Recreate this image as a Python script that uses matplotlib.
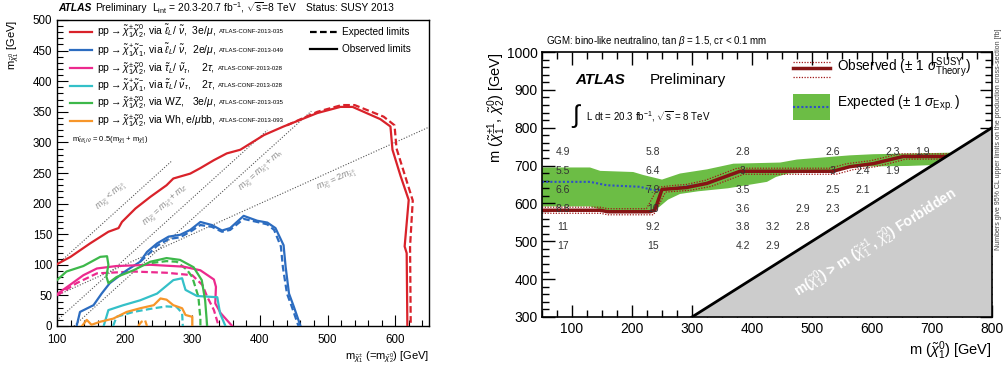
import numpy as np
import matplotlib
matplotlib.use('Agg')
import matplotlib.pyplot as plt
from matplotlib.ticker import MultipleLocator

plt.rcParams['font.family'] = ['Liberation Sans', 'DejaVu Sans']
plt.rcParams['mathtext.fontset'] = 'custom'
plt.rcParams['mathtext.rm'] = 'Liberation Sans'
plt.rcParams['mathtext.it'] = 'Liberation Sans:italic'
plt.rcParams['mathtext.bf'] = 'Liberation Sans:bold'

W, H = 1006, 374

# ---------------- left panel data (GeV) ----------------
red_obs_x = [100, 120, 149, 176, 191, 196, 216, 238, 262, 272, 297, 312, 332, 351, 371, 406, 435, 485, 519, 537, 578, 593, 596, 608, 620, 614, 617, 618]
red_obs_y = [101, 113, 135, 154, 160, 170, 192, 211, 230, 241, 249, 258, 271, 282, 288, 312, 326, 348, 358, 358, 338, 326, 288, 245, 206, 130, 119, 0]
red_exp_x = [440, 485, 521, 540, 583, 599, 602, 626, 622, 623]
red_exp_y = [328, 350, 361, 361, 342, 328, 290, 205, 130, 0]

blue_obs_x = [129, 134, 154, 166, 178, 203, 223, 233, 248, 265, 282, 297, 312, 329, 344, 356, 376, 396, 411, 423, 435, 438, 443, 450, 460]
blue_obs_y = [0, 23, 34, 53, 70, 91, 105, 121, 135, 146, 149, 157, 170, 165, 156, 160, 180, 172, 169, 160, 132, 97, 53, 32, 0]
blue_exp_x = [223, 230, 248, 265, 282, 297, 312, 329, 344, 356, 376, 396, 411, 421, 431, 434, 440, 447, 457]
blue_exp_y = [105, 112, 131, 142, 145, 154, 165, 162, 154, 157, 175, 170, 166, 157, 130, 96, 53, 32, 0]

green_obs_x = [100, 114, 139, 164, 174, 176, 173, 176, 188, 213, 238, 262, 282, 302, 314, 319, 322]
green_obs_y = [75, 89, 98, 113, 114, 100, 81, 70, 80, 91, 105, 111, 108, 96, 75, 42, 0]
green_exp_x = [240, 262, 277, 292, 300, 309, 312, 312]
green_exp_y = [103, 106, 105, 92, 80, 48, 12, 0]

pink_obs_x = [100, 119, 139, 159, 188, 238, 287, 312, 332, 335, 334, 342, 359]
pink_obs_y = [52, 67, 83, 94, 98, 100, 97, 91, 76, 64, 37, 21, 0]
pink_exp_x = [100, 129, 159, 213, 262, 300, 315, 322, 332, 339]
pink_exp_y = [50, 70, 86, 89, 87, 83, 67, 48, 26, 0]

cyan_obs_x = [169, 176, 198, 223, 248, 272, 285, 287, 290, 307, 337, 341, 349]
cyan_obs_y = [0, 26, 34, 42, 53, 75, 78, 70, 59, 49, 47, 21, 0]
cyan_exp_x = [183, 188, 213, 243, 262, 277, 285, 286]
cyan_exp_y = [0, 15, 23, 29, 32, 31, 21, 0]

orange_obs_x = [137, 144, 151, 164, 183, 203, 223, 243, 253, 262, 272, 285, 290, 300, 300]
orange_obs_y = [0, 10, 2, 7, 12, 23, 29, 34, 45, 43, 34, 29, 18, 15, 0]
orange_exp_x = [220, 225, 230, 233]
orange_exp_y = [0, 7, 10, 0]

legend_labels = [
    r'pp$\rightarrow\tilde{\chi}^{\pm}_{1}\tilde{\chi}^{0}_{2}$, via $\tilde{\ell}_{L}$/ $\tilde{\nu}$,  3e/$\mu$,',
    r'pp$\rightarrow\tilde{\chi}^{+}_{1}\tilde{\chi}^{-}_{1}$, via $\tilde{\ell}_{L}$/ $\tilde{\nu}$,  2e/$\mu$,',
    r'pp$\rightarrow\tilde{\chi}^{\pm}_{1}\tilde{\chi}^{0}_{2}$, via $\tilde{\tau}_{L}$/ $\tilde{\nu}_{\tau}$,    2$\tau$,',
    r'pp$\rightarrow\tilde{\chi}^{+}_{1}\tilde{\chi}^{-}_{1}$, via $\tilde{\tau}_{L}$/ $\tilde{\nu}_{\tau}$,    2$\tau$,',
    r'pp$\rightarrow\tilde{\chi}^{\pm}_{1}\tilde{\chi}^{0}_{2}$, via WZ,   3e/$\mu$,',
    r'pp$\rightarrow\tilde{\chi}^{\pm}_{1}\tilde{\chi}^{0}_{2}$, via Wh, e/$\mu$bb,',
]
legend_refs = ['ATLAS-CONF-2013-035', 'ATLAS-CONF-2013-049', 'ATLAS-CONF-2013-028',
               'ATLAS-CONF-2013-028', 'ATLAS-CONF-2013-035', 'ATLAS-CONF-2013-093']
colors = ['#d9222a', '#2c6cc0', '#ec2a8e', '#34c0c8', '#3db84a', '#f7962a']

# ---------------- right panel data (GeV) ----------------
obs_x = [50, 147, 160, 230, 238, 250, 275, 291, 325, 380, 535, 563, 602, 636, 652, 730]
obs_y = [582, 582, 578, 578, 582, 637, 640, 642, 653, 685, 685, 697, 705, 718, 724, 724]
obs_up_x = [50, 147, 160, 224, 244, 272, 290, 322, 375, 530, 558, 598, 632, 648, 730]
obs_up_y = [590, 590, 586, 586, 643, 648, 650, 661, 693, 693, 705, 713, 726, 731, 731]
obs_dn_x = [50, 147, 160, 236, 256, 282, 298, 332, 386, 540, 568, 606, 640, 656, 730]
obs_dn_y = [574, 574, 570, 570, 630, 633, 635, 645, 677, 677, 689, 697, 710, 717, 717]
exp_x = [50, 130, 158, 213, 236, 250, 286, 325, 380, 535, 563, 602, 636, 652, 730]
exp_y = [657, 657, 648, 644, 635, 636, 644, 653, 683, 683, 697, 705, 718, 724, 724]
band_up_x = [50, 130, 147, 202, 219, 250, 280, 325, 369, 447, 475, 563, 602, 730]
band_up_y = [695, 695, 686, 683, 675, 663, 679, 690, 705, 708, 716, 727, 730, 734]
band_dn_x = [50, 130, 160, 230, 245, 260, 280, 310, 360, 425, 440, 460, 525, 565, 660, 730]
band_dn_y = [592, 592, 578, 578, 590, 610, 625, 632, 640, 657, 670, 679, 683, 697, 699, 703]

num_x = [85, 85, 85, 85, 85, 85,
         235, 235, 235, 235, 235, 235,
         385, 385, 385, 385, 385, 385,
         435, 435, 485, 485,
         535, 535, 535, 535,
         585, 585, 635, 635, 685]
num_y = [736, 685, 636, 586, 537, 488,
         736, 685, 636, 586, 537, 488,
         736, 685, 636, 586, 537, 488,
         537, 488, 586, 537,
         736, 685, 636, 586,
         685, 636, 736, 685, 736]
num_txt = ['4.9', '5.5', '6.6', '8.8', '11', '17',
           '5.8', '6.4', '7.9', '10', '9.2', '15',
           '2.8', '3', '3.5', '3.6', '3.8', '4.2',
           '3.2', '2.9', '2.9', '2.8',
           '2.6', '3', '2.5', '2.3',
           '2.4', '2.1', '2.3', '1.9', '1.9']


def P(px, py):
    return px / W, 1 - py / H


fig = plt.figure(figsize=(W / 100, H / 100), dpi=100)

# ======================= LEFT =======================
axL = fig.add_axes([57 / W, 1 - 326 / H, (429 - 57) / W, (326 - 20) / H])
axL.set_xlim(100, 650)
axL.set_ylim(0, 500)

# kinematic lines
dl = dict(color='#555555', ls=(0, (1, 1.5)), lw=0.8, zorder=1)
axL.plot([100, 270], [100, 270], **dl)
axL.plot([100, 411], [9, 320], **dl)
axL.plot([125, 476], [0, 351], **dl)
axL.plot([100, 650], [50, 325], **dl)
lab = dict(color='#8c8c8c', fontsize=6.5, ha='center', va='center')
axL.text(180, 212, r'$m_{\tilde{\chi}^0_2} < m_{\tilde{\chi}^0_1}$', rotation=42, **lab)
axL.text(261, 196, r'$m_{\tilde{\chi}^0_2} = m_{\tilde{\chi}^0_1} + m_Z$', rotation=42, **lab)
axL.text(403, 254, r'$m_{\tilde{\chi}^0_2} = m_{\tilde{\chi}^0_1} + m_h$', rotation=42, **lab)
axL.text(513, 238, r'$m_{\tilde{\chi}^0_2} = 2m_{\tilde{\chi}^0_1}$', rotation=24, **lab)

curves = [(red_obs_x, red_obs_y, red_exp_x, red_exp_y),
          (blue_obs_x, blue_obs_y, blue_exp_x, blue_exp_y),
          (pink_obs_x, pink_obs_y, pink_exp_x, pink_exp_y),
          (cyan_obs_x, cyan_obs_y, cyan_exp_x, cyan_exp_y),
          (green_obs_x, green_obs_y, green_exp_x, green_exp_y),
          (orange_obs_x, orange_obs_y, orange_exp_x, orange_exp_y)]
for (ox, oy, ex, ey), c in zip(curves, colors):
    axL.plot(ex, ey, color=c, lw=1.6, ls=(0, (3, 1.5)), zorder=3)
    axL.plot(ox, oy, color=c, lw=1.6, zorder=4)

axL.xaxis.set_major_locator(MultipleLocator(100))
axL.xaxis.set_minor_locator(MultipleLocator(20))
axL.yaxis.set_major_locator(MultipleLocator(50))
axL.yaxis.set_minor_locator(MultipleLocator(10))
axL.tick_params(which='both', direction='in', labelsize=8.3, top=False, right=False)
axL.tick_params(which='major', length=8, width=0.8)
axL.tick_params(which='minor', length=4, width=0.8)
axL.tick_params(axis='x', pad=5.5)
for s in axL.spines.values():
    s.set_linewidth(1.0)

# legend (drawn by hand, ROOT style)
rows = [31.7, 50, 68.3, 85.5, 103, 120.5]
main_txts = []
for r, c, t in zip(rows, colors, legend_labels):
    fig.add_artist(plt.Line2D([70 / W, 92 / W], [1 - r / H] * 2, color=c, lw=1.6))
    main_txts.append(fig.text(*P(97, r), t, fontsize=7.5, va='center', ha='left'))
fig.text(*P(72, 140), r'm$_{\tilde{\ell}/\tilde{\tau}_L/\tilde{\nu}}$ = 0.5(m$_{\tilde{\chi}^{\pm}_1}$ + m$_{\tilde{\chi}^0_1}$)',
         fontsize=5.5, va='center')
fig.add_artist(plt.Line2D([310 / W, 337 / W], [1 - 31.7 / H] * 2, color='k', lw=1.6, ls=(0, (3, 1.5))))
fig.add_artist(plt.Line2D([310 / W, 337 / W], [1 - 49 / H] * 2, color='k', lw=1.6))
fig.text(*P(342, 31.7), 'Expected limits', fontsize=7.2, va='center')
fig.text(*P(342, 49), 'Observed limits', fontsize=7.2, va='center')

# title line, pieces chained left to right
title_parts = [('ATLAS', dict(fontweight='bold', style='italic'), 4),
               ('Preliminary', {}, 5),
               (r'L$_{\rm int}$ = 20.3-20.7 fb$^{-1}$, $\sqrt{\rm s}$=8 TeV', {}, 9),
               ('Status: SUSY 2013', {}, 0)]
title_txts = [fig.text(*P(58, 8), p[0], fontsize=7.4, va='center', **p[1]) for p in title_parts]

fig.text(*P(13, 20), r'm$_{\tilde{\chi}^0_1}$ [GeV]', fontsize=8, rotation=90, ha='center', va='top')
fig.text(*P(429, 357), r'm$_{\tilde{\chi}^{\pm}_1}$ (=m$_{\tilde{\chi}^0_2}$) [GeV]', fontsize=8, ha='right', va='center')

# ======================= RIGHT =======================
axR = fig.add_axes([542 / W, 1 - 317 / H, 450 / W, 265 / H])
axR.set_xlim(50, 800)
axR.set_ylim(300, 1000)

axR.fill(np.r_[band_up_x, band_dn_x[::-1]], np.r_[band_up_y, band_dn_y[::-1]],
         color='#6cbd45', lw=0, zorder=1)
axR.plot(exp_x, exp_y, color='#2f4fc8', lw=1.5, ls=(0, (1, 1)), zorder=2)
axR.plot(obs_up_x, obs_up_y, color='#a01818', lw=0.9, ls=(0, (1, 1.2)), zorder=3)
axR.plot(obs_dn_x, obs_dn_y, color='#a01818', lw=0.9, ls=(0, (1, 1.2)), zorder=3)
axR.plot(obs_x, obs_y, color='#861414', lw=2.5, zorder=4)

axR.fill([300, 800, 800], [300, 800, 300], color='#cccccc', lw=0, zorder=5)
axR.plot([300, 800], [300, 800], color='k', lw=2, zorder=6)
axR.text(607, 497, r'm($\tilde{\chi}^0_1$) > m ($\tilde{\chi}^{\pm 1}_1$, $\tilde{\chi}^0_2$) Forbidden',
         color='white', fontsize=10, fontweight='bold', rotation=32.3,
         ha='center', va='center', zorder=7)

for xv, yv, t in zip(num_x, num_y, num_txt):
    axR.text(xv, yv, t, fontsize=7.5, color='#333333', ha='center', va='center', zorder=8)

axR.xaxis.set_major_locator(MultipleLocator(100))
axR.xaxis.set_minor_locator(MultipleLocator(25))
axR.yaxis.set_major_locator(MultipleLocator(100))
axR.yaxis.set_minor_locator(MultipleLocator(20))
axR.tick_params(which='both', direction='in', labelsize=10, top=True, right=True)
axR.tick_params(which='major', length=9, width=1.0)
axR.tick_params(which='minor', length=5, width=1.0)
axR.tick_params(axis='y', pad=3)
for s in axR.spines.values():
    s.set_linewidth(1.2)
    s.set_zorder(10)

fig.text(*P(575, 80), 'ATLAS', fontsize=11, fontweight='bold', style='italic', va='center')
fig.text(*P(650, 80), 'Preliminary', fontsize=11, va='center')
fig.text(*P(577, 116), r'$\int$', fontsize=18, va='center', ha='center')
fig.text(*P(586, 117), r'L dt = 20.3 fb$^{-1}$, $\sqrt{\rm s}$ = 8 TeV', fontsize=7, va='center')

# legend
fig.add_artist(plt.Line2D([793 / W, 830 / W], [1 - 68.3 / H] * 2, color='#861414', lw=2.5))
fig.add_artist(plt.Line2D([793 / W, 830 / W], [1 - 62 / H] * 2, color='#a01818', lw=0.9, ls=(0, (1, 1.2))))
fig.add_artist(plt.Line2D([793 / W, 830 / W], [1 - 77 / H] * 2, color='#a01818', lw=0.9, ls=(0, (1, 1.2))))
fig.text(*P(837, 68), r'Observed ($\pm$ 1 $\sigma^{\rm SUSY}_{\rm Theory}$)', fontsize=9.8, va='center')
fig.add_artist(plt.Rectangle(P(793, 120), 37 / W, 26 / H, color='#6cbd45', lw=0))
fig.add_artist(plt.Line2D([793 / W, 830 / W], [1 - 107 / H] * 2, color='#2f4fc8', lw=1.5, ls=(0, (1, 1))))
fig.text(*P(837, 103), r'Expected ($\pm$ 1 $\sigma_{\rm Exp.}$)', fontsize=9.8, va='center')

fig.text(*P(546, 41), r'GGM: bino-like neutralino, tan $\beta$ = 1.5, c$\tau$ < 0.1 mm', fontsize=7, va='center')
fig.text(*P(999, 28), 'Numbers give 95% CL upper limits on the production cross-section [fb]',
         fontsize=5, color='#444444', rotation=90, ha='center', va='top')
fig.text(*P(497, 52), r'm ($\tilde{\chi}^{\pm 1}_1$, $\tilde{\chi}^0_2$) [GeV]', fontsize=10.5,
         rotation=90, ha='center', va='top')
fig.text(*P(992, 351), r'm ($\tilde{\chi}^0_1$) [GeV]', fontsize=10.5, ha='right', va='center')

# chain the title pieces and add the small conf-note refs after each legend line
fig.canvas.draw()
x = 58
for t, p in zip(title_txts, title_parts):
    t.set_x(x / W)
    x = t.get_window_extent().x1 + p[2]
for t, ref in zip(main_txts, legend_refs):
    bb = t.get_window_extent()
    fig.text((bb.x1 + 3) / W, (bb.y0 + bb.y1) / 2 / H, ref, fontsize=4.3, va='center')

fig.savefig('out.png', dpi=100)
